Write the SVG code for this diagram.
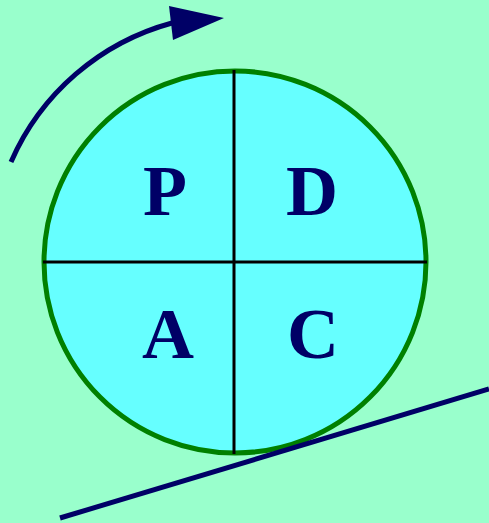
<svg xmlns="http://www.w3.org/2000/svg" width="489" height="523" viewBox="0 0 489 523">
<defs>
<style>
.lbl{font-family:"Liberation Serif","Times New Roman",serif;font-weight:bold;font-size:72px;fill:#000066;text-anchor:middle}
.div{stroke:#000;stroke-width:3;fill:none}
.navy{stroke:#000066;stroke-width:5;fill:none}
</style>
</defs>
<rect width="489" height="523" fill="#99FFCC"/>
<g id="wheel">
<circle cx="235" cy="262" r="191" fill="#66FFFF" stroke="#008000" stroke-width="5"/>
</g>
<g id="connectors">
<line class="div" x1="234" y1="70" x2="234" y2="454"/>
<line class="div" x1="43" y1="262" x2="427" y2="262"/>
<path class="navy" d="M11,162 A246,246 0 0 1 172,23"/>
<polygon points="169,6 173,40 224,18" fill="#000066"/>
<line class="navy" x1="60" y1="518" x2="489" y2="389"/>
</g>
<g id="P"><text class="lbl" x="165" y="215">P</text></g>
<g id="D"><text class="lbl" x="312" y="215">D</text></g>
<g id="A"><text class="lbl" x="168" y="358">A</text></g>
<g id="C"><text class="lbl" x="313" y="358">C</text></g>
</svg>
